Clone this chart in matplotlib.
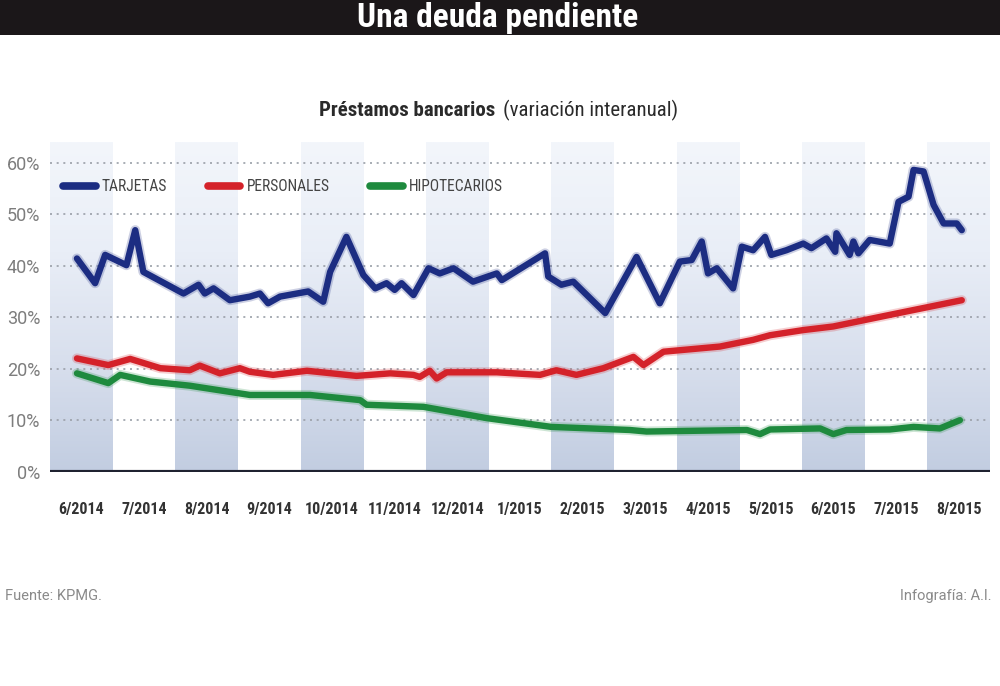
import matplotlib
matplotlib.use("Agg")
import matplotlib.pyplot as plt
import numpy as np
from matplotlib.colors import LinearSegmentedColormap
from matplotlib.patches import Rectangle
import matplotlib.patheffects as pe

# ---------------- data ----------------
meses = ["6/2014", "7/2014", "8/2014", "9/2014", "10/2014", "11/2014", "12/2014",
         "1/2015", "2/2015", "3/2015", "4/2015", "5/2015", "6/2015", "7/2015", "8/2015"]

# time in months since 6/2014
tarjetas_t = [-0.07, 0.22, 0.38, 0.72, 0.86, 0.99, 1.63, 1.87, 1.97, 2.11, 2.37, 2.69,
              2.85, 2.98, 3.17, 3.62, 3.86, 3.97, 4.23, 4.50, 4.69, 4.87, 5.00, 5.11,
              5.30, 5.54, 5.72, 5.94, 6.25, 6.63, 6.71, 7.40, 7.45, 7.66, 7.85, 8.36,
              8.86, 9.23, 9.55, 9.74, 9.90, 10.00, 10.14, 10.40, 10.54, 10.72, 10.91,
              11.01, 11.25, 11.52, 11.65, 11.89, 12.03, 12.05, 12.13, 12.26, 12.32,
              12.40, 12.58, 12.90, 13.04, 13.20, 13.28, 13.44, 13.60, 13.76, 13.97, 14.05]
tarjetas_v = [41.4, 36.6, 42.1, 40.1, 46.9, 38.8, 34.6, 36.3, 34.6, 35.6, 33.3, 34.0,
              34.6, 32.7, 34.0, 35.0, 33.0, 38.8, 45.6, 38.2, 35.6, 36.6, 35.3, 36.6,
              34.3, 39.5, 38.5, 39.5, 36.9, 38.5, 37.2, 42.4, 37.9, 36.3, 36.9, 30.8,
              41.7, 32.7, 40.8, 41.1, 44.7, 38.5, 39.5, 35.6, 43.7, 43.0, 45.6,
              42.1, 43.0, 44.3, 43.4, 45.3, 42.7, 46.3, 44.7, 42.1, 44.7,
              42.4, 45.0, 44.3, 52.4, 53.4, 58.6, 58.3, 51.8, 48.2, 48.2, 46.9]

personales_t = [-0.07, 0.43, 0.78, 1.26, 1.73, 1.89, 2.21, 2.53, 2.69, 3.06, 3.60, 4.39,
                4.93, 5.30, 5.40, 5.56, 5.67, 5.83, 6.63, 7.32, 7.58, 7.90, 8.33, 8.81,
                8.97, 9.29, 10.19, 10.72, 10.99, 11.52, 12.00, 13.00, 14.05]
personales_v = [22.0, 20.7, 21.9, 20.1, 19.7, 20.6, 19.1, 20.1, 19.4, 18.8, 19.6, 18.6,
                19.1, 18.8, 18.4, 19.6, 18.1, 19.3, 19.3, 18.8, 19.7, 18.8, 20.1, 22.3,
                20.7, 23.3, 24.3, 25.6, 26.5, 27.5, 28.2, 30.7, 33.3]

hipotecarios_t = [-0.07, 0.43, 0.62, 1.10, 1.73, 2.69, 3.65, 4.45, 4.55, 5.46, 6.47,
                  7.50, 8.75, 9.02, 10.62, 10.83, 10.99, 11.79, 12.00, 12.21, 12.90,
                  13.28, 13.70, 14.02]
hipotecarios_v = [19.1, 17.2, 18.8, 17.5, 16.7, 14.9, 14.9, 13.9, 13.0, 12.6, 10.4,
                  8.7, 8.1, 7.8, 8.1, 7.3, 8.2, 8.4, 7.3, 8.1, 8.2,
                  8.7, 8.4, 10.0]

series = [("TARJETAS", tarjetas_t, tarjetas_v, "#1c2d82"),
          ("PERSONALES", personales_t, personales_v, "#d4222a"),
          ("HIPOTECARIOS", hipotecarios_t, hipotecarios_v, "#1e8a3e")]

yticks = [0, 10, 20, 30, 40, 50, 60]

cond = ["Roboto Condensed", "DejaVu Sans"]
reg = ["Roboto", "DejaVu Sans"]

# ---------------- figure ----------------
fig = plt.figure(figsize=(10, 6.86), dpi=100)
fig.patch.set_facecolor("white")

# title bar
fig.patches.append(Rectangle((0, 1 - 35 / 686), 1, 35 / 686, transform=fig.transFigure,
                             facecolor="#1b1719", edgecolor="none", zorder=0))
fig.text(0.4975, 1 - 18 / 686, "Una deuda pendiente", color="white", ha="center",
         va="center", fontsize=24, fontweight="bold", family=cond)

# subtitle (bold part + normal part, centred together)
sub_y = 1 - 110 / 686
t1 = fig.text(0, sub_y, "Préstamos bancarios", color="#2a2a2a", ha="left",
              va="center", fontsize=15, fontweight="bold", family=cond)
t2 = fig.text(0, sub_y, "(variación interanual)", color="#2a2a2a",
              ha="left", va="center", fontsize=15, family=cond)
fig.canvas.draw()
w1 = t1.get_window_extent().width / 1000
w2 = t2.get_window_extent().width / 1000
gap = 0.007
x0 = 0.4985 - (w1 + gap + w2) / 2
t1.set_x(x0)
t2.set_x(x0 + w1 + gap)

ymax = 64
ax = fig.add_axes([0.05, (686 - 471.7) / 686, 0.94, ymax * 5.15 / 686])
ax.set_xlim(-0.5, len(meses) - 0.5)
ax.set_ylim(0, ymax)

# striped background with vertical gradient
cmap = LinearSegmentedColormap.from_list("band", ["#c2cde1", "#d8dfed", "#e9eef7", "#f3f6fb"])
grad = np.linspace(0, 1, 256).reshape(-1, 1)
for i in range(0, len(meses), 2):
    ax.imshow(grad, extent=[i - 0.5, i + 0.5, 0, ymax], origin="lower", aspect="auto",
              cmap=cmap, zorder=0)

# grid
for y in yticks[1:]:
    ax.axhline(y, color="#9a9fa8", lw=1.2, ls=(0, (1.2, 2.8)), zorder=1)
ax.axhline(0, color="#1f2230", lw=3, zorder=3)

# lines
for name, t, v, c in series:
    ax.plot(t, v, color=c, lw=4.6, solid_joinstyle="round", solid_capstyle="round",
            zorder=4, label=name, clip_on=False,
            path_effects=[pe.Stroke(linewidth=7.2, foreground=c, alpha=0.22), pe.Normal()])

for s in ax.spines.values():
    s.set_visible(False)

ax.set_yticks(yticks)
ax.set_yticklabels([f"{y}%" for y in yticks], color="#7d7d7d", fontsize=13, family=reg)
ax.set_xticks(range(len(meses)))
ax.set_xticklabels(meses, color="#333333", fontsize=11.5, fontweight="bold", family=cond)
ax.tick_params(axis="both", length=0)
ax.tick_params(axis="x", pad=22)
ax.tick_params(axis="y", pad=7)

leg = ax.legend(loc="center left", bbox_to_anchor=(-0.001, (471.7 - 187) / (ymax * 5.15)),
                ncol=3, frameon=False, handlelength=2.1, handletextpad=0.4,
                columnspacing=2.6, prop={"family": cond, "size": 11.2})
for txt in leg.get_texts():
    txt.set_color("#444444")
for h in leg.legend_handles:
    h.set_linewidth(5.5)
    h.set_solid_capstyle("round")
    h.set_path_effects([])

# footer
fig.text(0.005, 1 - 596 / 686, "Fuente: KPMG.", color="#8a8a8a", fontsize=10.5,
         ha="left", va="center", family=reg)
fig.text(0.992, 1 - 596 / 686, "Infografía: A.I.", color="#8a8a8a", fontsize=10.5,
         ha="right", va="center", family=reg)

fig.savefig("out.png", dpi=100)
